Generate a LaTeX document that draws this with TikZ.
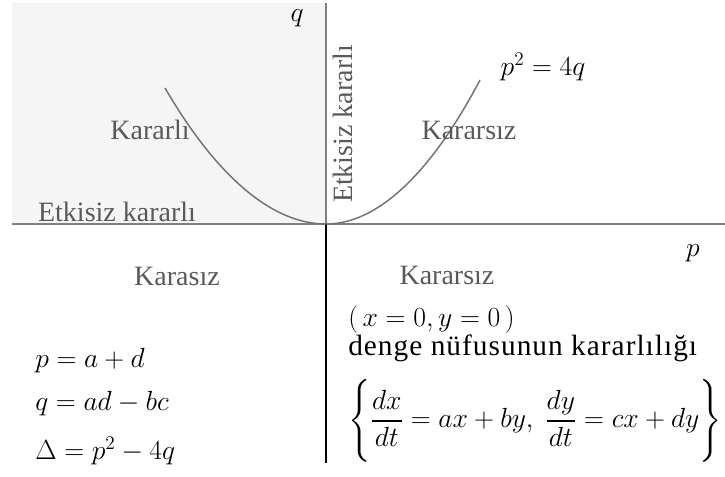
\documentclass[tikz,border=0pt]{standalone}
\usepackage{amsmath}
\usepackage{fontspec}
\setmainfont{Liberation Serif}

\begin{document}
\begin{tikzpicture}[x=0.75pt, y=0.75pt,
    region/.style={text=black!65, font=\fontsize{21}{25}\selectfont, inner sep=0pt},
    eqn/.style={font=\fontsize{21}{25}\selectfont, anchor=west, inner sep=0pt}]
    % --- parameters ---
    \def\xL{-314}   % left end of the p axis
    \def\xR{399}    % right end of the p axis
    \def\yT{221}    % top of the q axis
    \def\yB{-239}   % bottom of the q axis

    \useasboundingbox (-326,-253) rectangle (399,224);

    % --- 1. shaded stable quadrant ---
    \fill[black!4] (\xL,0) rectangle (0,\yT);

    % --- 2. axes ---
    \draw[black!50, line width=1.5pt] (\xL,0) -- (\xR,0);
    \draw[black!50, line width=0.8pt] (0,0) -- (0,\yT);
    \draw[line width=1pt] (0,0) -- (0,\yB);

    % parabola p^2 = 4q
    \draw[black!55, line width=1.1pt] (-161,136) parabola bend (0,0) (154,144);

    % --- 3. axis names and curve label ---
    \node[font=\fontsize{21}{25}\selectfont] (qlab) at (-29,206) {$q$};
    \node[font=\fontsize{21}{25}\selectfont] (plab) at (367,-29) {$p$};
    \node[font=\fontsize{22}{26}\selectfont] (curve) at (217,157) {$p^2 = 4q$};

    % --- 4. regions ---
    \node[region] (stable) at (-176,94) {Kararlı};
    \node[region] (unstableUp) at (143,94) {Kararsız};
    \node[region] (unstableLeft) at (-149,-52) {Karasız};
    \node[region] (unstableDown) at (121,-51) {Kararsız};
    \node[region] (neutralH) at (-209,12) {Etkisiz kararlı};
    \node[region, rotate=90] (neutralV) at (17,100) {Etkisiz kararlı};

    % --- 5. definitions (left) ---
    \node[eqn] (pdef) at (-291,-137) {$p = a + d$};
    \node[eqn] (qdef) at (-291,-180) {$q = ad - bc$};
    \node[eqn] (ddef) at (-291,-227) {$\Delta = p^2 - 4q$};

    % --- 6. system (right) ---
    \node[eqn] (equil) at (22,-96) {$(\,x = 0, y = 0\,)$};
    \node[eqn, font=\fontsize{22}{26}\selectfont\addfontfeature{LetterSpace=3.5}]
        (title) at (22,-124) {denge nüfusunun kararlılığı};
    \node[eqn] (system) at (22,-197)
        {$\Biggl\{\dfrac{dx}{dt} = ax + by,\ \dfrac{dy}{dt} = cx + dy\Biggr\}$};

\end{tikzpicture}
\end{document}
